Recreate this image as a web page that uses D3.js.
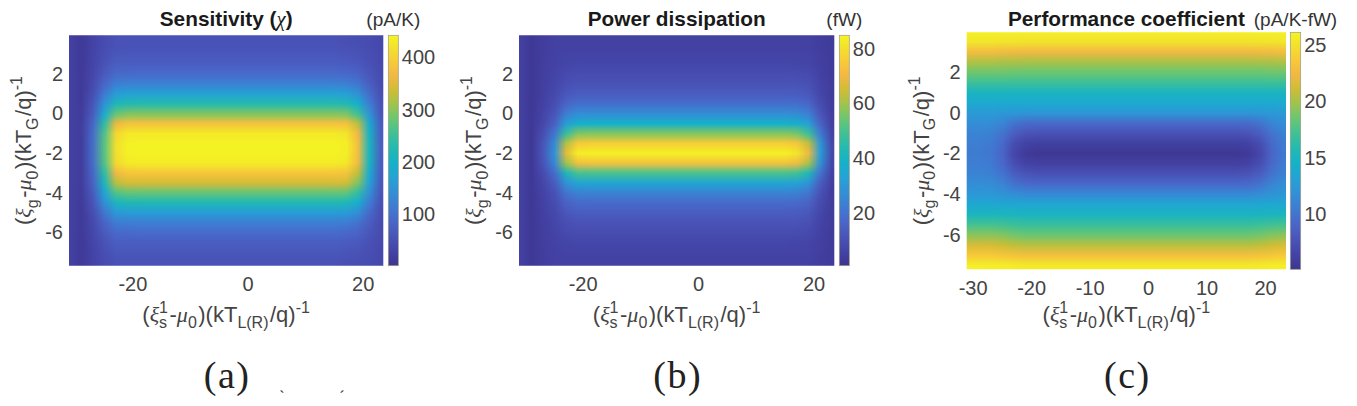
<!DOCTYPE html>
<html>
<head>
<meta charset="utf-8">
<script src="https://cdn.jsdelivr.net/npm/d3@7"></script>
<style>
  body { margin: 0; background: #fff; }
  svg { display: block; font-family: "Liberation Sans", Arial, sans-serif; }
</style>
</head>
<body>
<svg id="chart" width="1357" height="406"></svg>
<script>
// grid centres (2 units in x, 0.5 in y)
const xCenters = [-31,-29,-27,-25,-23,-21,-19,-17,-15,-13,-11,-9,-7,-5,-3,-1,1,3,5,7,9,11,13,15,17,19,21,23];
const yCenters = [4,3.5,3,2.5,2,1.5,1,0.5,0,-0.5,-1,-1.5,-2,-2.5,-3,-3.5,-4,-4.5,-5,-5.5,-6,-6.5,-7,-7.5];

// (a) sensitivity, pA/K
const sensitivity = [
  [25,12,30,45,55,55, 55,55,55,55,55,55, 55,55,55,55,55,55, 55,55,55,55,55,55, 52,50,45,40],
  [25,12,30,45,55,55, 55,55,55,55,55,55, 55,55,55,55,55,55, 55,55,55,55,55,55, 52,50,45,40],
  [25,12,31,50,62,63, 63,63,63,63,63,63, 63,63,63,63,63,63, 63,63,63,63,63,63, 60,57,48,41],
  [25,12,33,56,73,74, 74,74,74,74,74,74, 74,74,74,74,74,74, 74,74,74,74,74,74, 71,66,53,42],
  [25,13,37,68,91,93, 94,94,94,94,94,94, 94,94,94,94,94,94, 94,94,94,94,94,94, 90,83,62,44],
  [25,13,42,86,120,124, 124,124,124,124,124,124, 124,124,124,124,124,124, 124,124,124,124,124,124, 121,109,75,46],
  [25,14,50,113,163,170, 171,171,171,171,171,171, 171,171,171,171,171,171, 171,171,171,171,171,171, 167,148,95,51],
  [25,16,59,146,217,227, 228,228,228,228,228,228, 228,228,228,228,228,228, 228,228,228,228,228,228, 225,196,119,56],
  [25,17,70,185,278,292, 294,294,294,294,294,294, 294,294,294,294,294,294, 294,294,294,294,294,294, 290,252,147,62],
  [25,19,85,236,361,381, 382,382,382,382,382,382, 382,382,382,382,382,382, 382,382,382,382,382,382, 378,326,185,70],
  [25,20,93,263,404,427, 428,428,428,428,428,428, 428,428,428,428,428,428, 428,428,428,428,428,428, 424,365,205,74],
  [25,20,95,270,415,438, 440,440,440,440,440,440, 440,440,440,440,440,440, 440,440,440,440,440,440, 436,375,210,75],
  [25,20,95,270,415,438, 440,440,440,440,440,440, 440,440,440,440,440,440, 440,440,440,440,440,440, 436,375,210,75],
  [25,20,94,266,408,430, 432,432,432,432,432,432, 432,432,432,432,432,432, 432,432,432,432,432,432, 428,369,207,74],
  [25,19,86,239,365,384, 386,386,386,386,386,386, 386,386,386,386,386,386, 386,386,386,386,386,386, 382,330,187,70],
  [25,18,79,214,325,342, 344,344,344,344,344,344, 344,344,344,344,344,344, 344,344,344,344,344,344, 340,294,169,66],
  [25,17,68,176,264,277, 278,278,278,278,278,278, 278,278,278,278,278,278, 278,278,278,278,278,278, 275,239,141,60],
  [25,15,58,142,210,220, 221,221,221,221,221,221, 221,221,221,221,221,221, 221,221,221,221,221,221, 217,190,116,55],
  [25,14,48,108,156,162, 163,163,163,163,163,163, 163,163,163,163,163,163, 163,163,163,163,163,163, 160,141,91,50],
  [25,13,41,83,116,120, 120,120,120,120,120,120, 120,120,120,120,120,120, 120,120,120,120,120,120, 117,105,73,46],
  [25,13,37,68,91,93, 94,94,94,94,94,94, 94,94,94,94,94,94, 94,94,94,94,94,94, 90,83,62,44],
  [25,12,33,56,73,74, 74,74,74,74,74,74, 74,74,74,74,74,74, 74,74,74,74,74,74, 71,66,53,42],
  [25,12,31,50,62,63, 63,63,63,63,63,63, 63,63,63,63,63,63, 63,63,63,63,63,63, 60,57,48,41],
  [25,12,30,45,55,55, 55,55,55,55,55,55, 55,55,55,55,55,55, 55,55,55,55,55,55, 52,50,45,40]
];

// (b) power dissipation, fW
const power = [
  [5,2,4,5,5,5, 5,5,5,5,5,5, 5,5,5,5,5,5, 5,5,5,5,5,5, 5,5,4,3],
  [5,2,4,5,5,5, 5,5,5,5,5,5, 5,5,5,5,5,5, 5,5,5,5,5,5, 5,5,4,3],
  [5,2,4.1,5.3,5.8,6, 6,6,6,6,6,6, 6,6,6,6,6,6, 6,6,6,6,6,6, 6,5.8,4.4,3.1],
  [5,2,4.2,5.6,6.6,7, 7,7,7,7,7,7, 7,7,7,7,7,7, 7,7,7,7,7,7, 6.9,6.6,4.7,3.1],
  [5,2,4.4,6.2,8.2,9, 9,9,9,9,9,9, 9,9,9,9,9,9, 9,9,9,9,9,9, 8.9,8.3,5.4,3.2],
  [5,2,4.6,6.8,9.8,10.9, 11,11,11,11,11,11, 11,11,11,11,11,11, 11,11,11,11,11,11, 10.8,9.9,6.1,3.4],
  [5,2,4.9,7.7,12.2,13.9, 14,14,14,14,14,14, 14,14,14,14,14,14, 14,14,14,14,14,14, 13.7,12.4,7.2,3.5],
  [5,2,5.4,9.2,16.2,18.9, 19,19,19,19,19,19, 19,19,19,19,19,19, 19,19,19,19,19,19, 18.6,16.5,8.9,3.8],
  [5,2,6.2,11.6,22.6,26.8, 27,27,27,27,27,27, 27,27,27,27,27,27, 27,27,27,27,27,27, 26.3,23,11.7,4.3],
  [5,2,7.3,14.9,31.4,37.7, 38,38,38,38,38,38, 38,38,38,38,38,38, 38,38,38,38,38,38, 37,32.1,15.6,5],
  [5,2,9.2,20.6,46.6,56.5, 57,57,57,57,57,57, 57,57,57,57,57,57, 57,57,57,57,57,57, 55.4,47.6,22.2,6.1],
  [5,2,11.1,26.3,61.8,75.3, 76,76,76,76,76,76, 76,76,76,76,76,76, 76,76,76,76,76,76, 73.9,63.2,28.9,7.3],
  [5,2,11.9,28.7,68.2,83.2, 84,84,84,84,84,84, 84,84,84,84,84,84, 84,84,84,84,84,84, 81.6,69.8,31.7,7.7],
  [5,2,10.8,25.4,59.4,72.3, 73,73,73,73,73,73, 73,73,73,73,73,73, 73,73,73,73,73,73, 71,60.8,27.8,7.1],
  [5,2,8.5,18.5,41,49.6, 50,50,50,50,50,50, 50,50,50,50,50,50, 50,50,50,50,50,50, 48.7,41.9,19.8,5.7],
  [5,2,6.9,13.7,28.2,33.7, 34,34,34,34,34,34, 34,34,34,34,34,34, 34,34,34,34,34,34, 33.1,28.8,14.2,4.7],
  [5,2,5.9,10.7,20.2,23.8, 24,24,24,24,24,24, 24,24,24,24,24,24, 24,24,24,24,24,24, 23.4,20.6,10.7,4.1],
  [5,2,5.3,8.9,15.4,17.9, 18,18,18,18,18,18, 18,18,18,18,18,18, 18,18,18,18,18,18, 17.6,15.7,8.6,3.8],
  [5,2,4.9,7.7,12.2,13.9, 14,14,14,14,14,14, 14,14,14,14,14,14, 14,14,14,14,14,14, 13.7,12.4,7.2,3.5],
  [5,2,4.6,6.8,9.8,10.9, 11,11,11,11,11,11, 11,11,11,11,11,11, 11,11,11,11,11,11, 10.8,9.9,6.1,3.4],
  [5,2,4.4,6.2,8.2,9, 9,9,9,9,9,9, 9,9,9,9,9,9, 9,9,9,9,9,9, 8.9,8.3,5.4,3.2],
  [5,2,4.2,5.6,6.6,7, 7,7,7,7,7,7, 7,7,7,7,7,7, 7,7,7,7,7,7, 6.9,6.6,4.7,3.1],
  [5,2,4.1,5.3,5.8,6, 6,6,6,6,6,6, 6,6,6,6,6,6, 6,6,6,6,6,6, 6,5.8,4.4,3.1],
  [5,2,4,5,5,5, 5,5,5,5,5,5, 5,5,5,5,5,5, 5,5,5,5,5,5, 5,5,4,3]
];

// (c) performance coefficient, pA/K-fW
const performance = [
  [26,26,26,25.9,25.9,25.8, 25.8,25.8,25.8,25.8,25.8,25.8, 25.8,25.8,25.8,25.8,25.8,25.8, 25.8,25.8,25.8,25.8,25.8,25.8, 25.8,25.9,25.9,26],
  [25.2,25.2,25.2,25.1,25.1,25, 25,25,25,25,25,25, 25,25,25,25,25,25, 25,25,25,25,25,25, 25,25.1,25.1,25.2],
  [22.8,22.8,22.8,22.7,22.6,22.5, 22.5,22.5,22.5,22.5,22.5,22.5, 22.5,22.5,22.5,22.5,22.5,22.5, 22.5,22.5,22.5,22.5,22.5,22.5, 22.5,22.6,22.7,22.8],
  [20.2,20.2,20.2,20.1,20.1,20, 20,20,20,20,20,20, 20,20,20,20,20,20, 20,20,20,20,20,20, 20,20.1,20.1,20.2],
  [18.6,18.6,18.6,18.6,18.5,18.5, 18.5,18.5,18.5,18.5,18.5,18.5, 18.5,18.5,18.5,18.5,18.5,18.5, 18.5,18.5,18.5,18.5,18.5,18.5, 18.5,18.5,18.6,18.6],
  [17,17,17,17,17,17, 17,17,17,17,17,17, 17,17,17,17,17,17, 17,17,17,17,17,17, 17,17,17,17],
  [15,15,15,15,15,15, 15,15,15,15,15,15, 15,15,15,15,15,15, 15,15,15,15,15,15, 15,15,15,15],
  [13.8,13.8,13.8,13.8,13.8,13.8, 13.8,13.8,13.8,13.8,13.8,13.8, 13.8,13.8,13.8,13.8,13.8,13.8, 13.8,13.8,13.8,13.8,13.8,13.8, 13.8,13.8,13.8,13.8],
  [12.6,12.6,12.6,12.5,12.4,12.3, 12.3,12.3,12.3,12.3,12.3,12.3, 12.3,12.3,12.3,12.3,12.3,12.3, 12.3,12.3,12.3,12.3,12.3,12.3, 12.3,12.4,12.5,12.6],
  [11.8,11.8,11.7,11.1,10,9.5, 9.4,9.4,9.4,9.4,9.4,9.4, 9.4,9.4,9.4,9.4,9.4,9.4, 9.4,9.4,9.4,9.4,9.4,9.4, 9.5,10,11.1,11.8],
  [11,11,10.8,10,8.5,7.8, 7.6,7.6,7.6,7.6,7.6,7.6, 7.6,7.6,7.6,7.6,7.6,7.6, 7.6,7.6,7.6,7.6,7.6,7.6, 7.8,8.5,10,10.9],
  [10.6,10.6,10.4,9.3,7.2,6.3, 6.1,6.1,6.1,6.1,6.1,6.1, 6.1,6.1,6.1,6.1,6.1,6.1, 6.1,6.1,6.1,6.1,6.1,6.1, 6.3,7.2,9.3,10.5],
  [10.5,10.5,10.2,9,6.7,5.7, 5.4,5.4,5.4,5.4,5.4,5.4, 5.4,5.4,5.4,5.4,5.4,5.4, 5.4,5.4,5.4,5.4,5.4,5.4, 5.7,6.7,9,10.4],
  [10.6,10.6,10.4,9.3,7.3,6.4, 6.2,6.2,6.2,6.2,6.2,6.2, 6.2,6.2,6.2,6.2,6.2,6.2, 6.2,6.2,6.2,6.2,6.2,6.2, 6.4,7.3,9.3,10.5],
  [11,11,10.8,10,8.5,7.8, 7.6,7.6,7.6,7.6,7.6,7.6, 7.6,7.6,7.6,7.6,7.6,7.6, 7.6,7.6,7.6,7.6,7.6,7.6, 7.8,8.5,10,10.9],
  [11.7,11.7,11.6,11,9.9,9.4, 9.3,9.3,9.3,9.3,9.3,9.3, 9.3,9.3,9.3,9.3,9.3,9.3, 9.3,9.3,9.3,9.3,9.3,9.3, 9.4,9.9,11,11.7],
  [12.4,12.4,12.4,12.1,11.7,11.5, 11.5,11.5,11.5,11.5,11.5,11.5, 11.5,11.5,11.5,11.5,11.5,11.5, 11.5,11.5,11.5,11.5,11.5,11.5, 11.5,11.7,12.1,12.4],
  [13.6,13.6,13.6,13.6,13.5,13.5, 13.5,13.5,13.5,13.5,13.5,13.5, 13.5,13.5,13.5,13.5,13.5,13.5, 13.5,13.5,13.5,13.5,13.5,13.5, 13.5,13.5,13.6,13.6],
  [15.2,15.2,15.2,15.1,15.1,15, 15,15,15,15,15,15, 15,15,15,15,15,15, 15,15,15,15,15,15, 15,15.1,15.1,15.2],
  [17.3,17.3,17.3,17.2,16.9,16.8, 16.8,16.8,16.8,16.8,16.8,16.8, 16.8,16.8,16.8,16.8,16.8,16.8, 16.8,16.8,16.8,16.8,16.8,16.8, 16.8,16.9,17.2,17.3],
  [19.3,19.3,19.3,19.1,18.7,18.5, 18.5,18.5,18.5,18.5,18.5,18.5, 18.5,18.5,18.5,18.5,18.5,18.5, 18.5,18.5,18.5,18.5,18.5,18.5, 18.5,18.7,19.1,19.3],
  [21.4,21.4,21.4,21.1,20.7,20.5, 20.5,20.5,20.5,20.5,20.5,20.5, 20.5,20.5,20.5,20.5,20.5,20.5, 20.5,20.5,20.5,20.5,20.5,20.5, 20.5,20.7,21.1,21.4],
  [23.6,23.6,23.6,23.4,23.2,23, 23,23,23,23,23,23, 23,23,23,23,23,23, 23,23,23,23,23,23, 23,23.2,23.4,23.6],
  [25.8,25.8,25.8,25.7,25.6,25.5, 25.5,25.5,25.5,25.5,25.5,25.5, 25.5,25.5,25.5,25.5,25.5,25.5, 25.5,25.5,25.5,25.5,25.5,25.5, 25.5,25.6,25.7,25.8]
];

// axis ticks
const xTicksAB = [-20, 0, 20];
const xTicksC = [-30, -20, -10, 0, 10, 20];
const yTicks = [-6, -4, -2, 0, 2];
const cbarTicksA = [100, 200, 300, 400];
const cbarTicksB = [20, 40, 60, 80];
const cbarTicksC = [10, 15, 20, 25];

// parula as it looks in the (faded) print
const parulaIdx = [0,4,8,12,16,20,24,28,32,36,40,44,48,52,56,60,63];
const parulaCols = ["#3d3590","#4443a6","#4a54b8","#4a66c8","#3f7bd2","#338fd6","#25a2d6","#15b1ca",
                    "#22b9b2","#3fc196","#68c674","#9ec44d","#cfbd35","#f2b844","#f8cb38","#f2e42c","#f5f423"];

const svg = d3.select('#chart');
const defs = svg.append('defs');

// colourbar gradient, bottom -> top
const grad = defs.append('linearGradient').attr('id', 'parula')
  .attr('x1', 0).attr('y1', 1).attr('x2', 0).attr('y2', 0);
parulaIdx.forEach((k, i) => {
  grad.append('stop').attr('offset', k / 63).attr('stop-color', parulaCols[i]);
});

const panels = [
  { id: 'a', grid: sensitivity, x0: 69, y0: 35.3, w: 314.3, h: 230.4, cbx: 388.3, cbw: 10,
    cmin: 2, cmax: 442, cticks: cbarTicksA, xticks: xTicksAB, unit: '(pA/K)',
    title: [{ t: 'Sensitivity (' }, { t: 'χ', greek: 1 }, { t: ')' }], tag: '(a)' },
  { id: 'b', grid: power, x0: 519, y0: 35.3, w: 315.3, h: 230.4, cbx: 839.3, cbw: 10,
    cmin: 0.5, cmax: 85, cticks: cbarTicksB, xticks: xTicksAB, unit: '(fW)',
    title: [{ t: 'Power dissipation' }], tag: '(b)' },
  { id: 'c', grid: performance, x0: 966.7, y0: 32.3, w: 319.3, h: 237, cbx: 1290.3, cbw: 10.4,
    cmin: 5.1, cmax: 26.1, cticks: cbarTicksC, xticks: xTicksC, unit: '(pA/K-fW)',
    title: [{ t: 'Performance coefficient' }], tag: '(c)' }
];

const xLabelParts = [
  { t: '(' }, { t: 'ξ', greek: 1 }, { t: 's', sub: 1 }, { t: '1', sup: 1, dx: -8 },
  { t: '-', dx: 1.5 }, { t: 'μ', greek: 1 }, { t: '0', sub: 1 }, { t: ')(kT', dx: 1.5 }, { t: 'L(R)', sub: 1 },
  { t: '/q)', dx: 1.5 }, { t: '-1', sup: 1 }
];
const yLabelParts = [
  { t: '(' }, { t: 'ξ', greek: 1 }, { t: 'g', sub: 1 }, { t: '-', dx: 1.5 }, { t: 'μ', greek: 1 },
  { t: '0', sub: 1 }, { t: ')(kT', dx: 1.5 }, { t: 'G', sub: 1 }, { t: '/q)', dx: 1.5 }, { t: '-1', sup: 1 }
];

// text with sub/superscripts as tspans
function richText(sel, parts, small) {
  let shift = 0;
  parts.forEach(p => {
    const target = p.sub ? 6.5 : p.sup ? -9 : 0;
    const ts = sel.append('tspan').text(p.t);
    if (target - shift !== 0) ts.attr('dy', target - shift);
    shift = target;
    if (p.sub || p.sup) ts.attr('font-size', small);
    if (p.greek) ts.attr('font-family', '"Liberation Serif", serif').attr('font-style', 'italic').attr('font-weight', 'normal');
    if (p.dx) ts.attr('dx', p.dx);
  });
}

const tickColor = '#444';

panels.forEach(p => {
  const x = d3.scaleLinear().domain([-31.1, 23.5]).range([p.x0, p.x0 + p.w]);
  const y = d3.scaleLinear().domain([3.95, -7.7]).range([p.y0, p.y0 + p.h]);
  const color = d3.scaleLinear()
    .domain(parulaIdx.map(k => p.cmin + (p.cmax - p.cmin) * k / 63))
    .range(parulaCols).clamp(true);

  // small image of the grid, one pixel per cell, smoothed by the browser when scaled
  const nx = xCenters.length, ny = yCenters.length;
  const cv = document.createElement('canvas');
  cv.width = nx; cv.height = ny;
  const ctx = cv.getContext('2d');
  const img = ctx.createImageData(nx, ny);
  p.grid.forEach((row, j) => row.forEach((v, i) => {
    const c = d3.rgb(color(v));
    const k = (j * nx + i) * 4;
    img.data[k] = c.r; img.data[k + 1] = c.g; img.data[k + 2] = c.b; img.data[k + 3] = 255;
  }));
  ctx.putImageData(img, 0, 0);

  defs.append('clipPath').attr('id', 'clip-' + p.id)
    .append('rect').attr('x', p.x0).attr('y', p.y0).attr('width', p.w).attr('height', p.h);

  const gx0 = x(xCenters[0] - 1), gx1 = x(xCenters[nx - 1] + 1);
  const gy0 = y(yCenters[0] + 0.25), gy1 = y(yCenters[ny - 1] - 0.25);
  svg.append('g').attr('clip-path', 'url(#clip-' + p.id + ')')
    .append('image')
    .attr('href', cv.toDataURL())
    .attr('x', gx0).attr('y', gy0)
    .attr('width', gx1 - gx0).attr('height', gy1 - gy0)
    .attr('preserveAspectRatio', 'none');

  // x ticks
  svg.append('g').selectAll('text').data(p.xticks).join('text')
    .attr('x', d => x(d)).attr('y', p.y0 + p.h + 25.3)
    .attr('text-anchor', 'middle').attr('font-size', 20).attr('fill', tickColor)
    .text(d => d);

  // y ticks
  svg.append('g').selectAll('text').data(yTicks).join('text')
    .attr('x', p.x0 - 6).attr('y', d => y(d)).attr('dy', '0.35em')
    .attr('text-anchor', 'end').attr('font-size', 20).attr('fill', tickColor)
    .text(d => d);

  // colourbar
  const cb = d3.scaleLinear().domain([p.cmin, p.cmax]).range([p.y0 + p.h, p.y0]);
  svg.append('rect').attr('x', p.cbx).attr('y', p.y0).attr('width', p.cbw).attr('height', p.h)
    .attr('fill', 'url(#parula)').attr('stroke', '#9a9a86').attr('stroke-width', 0.7);
  svg.append('g').selectAll('text').data(p.cticks).join('text')
    .attr('x', p.cbx + p.cbw + 3.5).attr('y', d => cb(d)).attr('dy', '0.35em')
    .attr('font-size', 20).attr('fill', tickColor)
    .text(d => d);

  // title and unit
  const title = svg.append('text').attr('x', p.x0 + p.w / 2).attr('y', 26)
    .attr('text-anchor', 'middle').attr('font-size', 20.8).attr('font-weight', 'bold').attr('fill', '#1a1a1a');
  richText(title, p.title, 14);
  svg.append('text').attr('x', p.cbx + p.cbw / 2).attr('y', 26)
    .attr('text-anchor', 'middle').attr('font-size', 19).attr('fill', '#333')
    .text(p.unit);

  // axis labels
  const xl = svg.append('text').attr('x', p.x0 + p.w / 2).attr('y', 321.7)
    .attr('text-anchor', 'middle').attr('font-size', 22).attr('fill', tickColor);
  richText(xl, xLabelParts, 16);
  const yl = svg.append('text')
    .attr('transform', `translate(${p.x0 - 38},${p.y0 + p.h / 2}) rotate(-90)`)
    .attr('text-anchor', 'middle').attr('font-size', 22).attr('fill', tickColor);
  richText(yl, yLabelParts, 16);

  // panel tag
  svg.append('text').attr('x', p.x0 + p.w / 2 + 1).attr('y', 388)
    .attr('text-anchor', 'middle').attr('font-size', 38).attr('letter-spacing', 1.5)
    .attr('font-family', '"Liberation Serif", serif').attr('fill', '#222')
    .text(p.tag);
});

// accents peeking in at the foot of the page
svg.append('text').attr('x', 282).attr('y', 402).attr('text-anchor', 'middle')
  .attr('font-size', 16).attr('font-family', '"Liberation Serif", serif').attr('fill', '#222').text('`');
svg.append('text').attr('x', 342).attr('y', 402).attr('text-anchor', 'middle')
  .attr('font-size', 16).attr('font-family', '"Liberation Serif", serif').attr('fill', '#222').text('´');
</script>
</body>
</html>
